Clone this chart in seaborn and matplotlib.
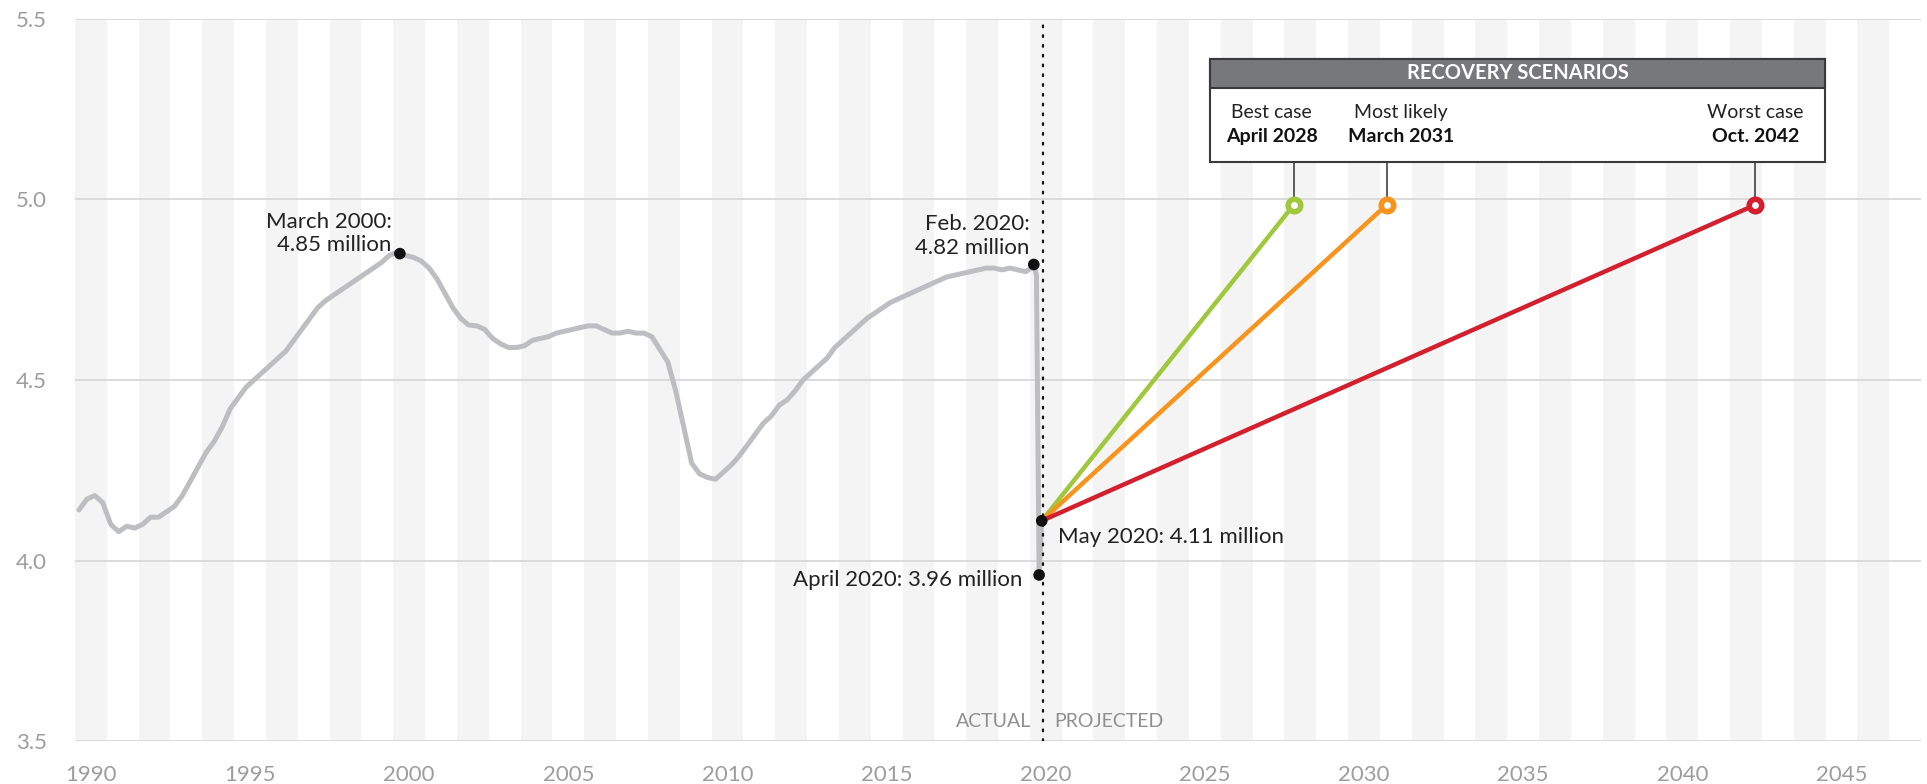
import matplotlib
matplotlib.use('Agg')
import matplotlib.pyplot as plt
from matplotlib.patches import Rectangle
import seaborn as sns
import pandas as pd

# quarterly readings (mid-quarter), millions of jobs
years = list(range(1990, 2020))
quarterly = [
    [4.14, 4.17, 4.18, 4.16],
    [4.10, 4.08, 4.095, 4.09],
    [4.10, 4.12, 4.12, 4.135],
    [4.15, 4.18, 4.22, 4.26],
    [4.30, 4.33, 4.37, 4.42],
    [4.45, 4.48, 4.50, 4.52],
    [4.54, 4.56, 4.58, 4.61],
    [4.64, 4.67, 4.70, 4.72],
    [4.735, 4.75, 4.765, 4.78],
    [4.795, 4.81, 4.825, 4.845],
    [4.854, 4.845, 4.84, 4.83],
    [4.81, 4.78, 4.74, 4.70],
    [4.67, 4.652, 4.65, 4.64],
    [4.615, 4.60, 4.59, 4.59],
    [4.595, 4.61, 4.615, 4.62],
    [4.63, 4.635, 4.64, 4.645],
    [4.65, 4.65, 4.64, 4.63],
    [4.63, 4.635, 4.63, 4.63],
    [4.62, 4.585, 4.55, 4.47],
    [4.37, 4.27, 4.24, 4.23],
    [4.225, 4.245, 4.265, 4.29],
    [4.32, 4.35, 4.38, 4.40],
    [4.43, 4.445, 4.47, 4.50],
    [4.52, 4.54, 4.56, 4.59],
    [4.61, 4.63, 4.65, 4.67],
    [4.685, 4.70, 4.715, 4.725],
    [4.735, 4.745, 4.755, 4.765],
    [4.775, 4.785, 4.79, 4.795],
    [4.80, 4.805, 4.81, 4.81],
    [4.805, 4.81, 4.805, 4.80],
]
# 2020 monthly: Jan..May
months_2020 = [1, 2, 3, 4, 5]
values_2020 = [4.81, 4.82, 4.79, 3.96, 4.11]

# recovery scenarios (year, month) and level reached
scen_names = ['Best case', 'Most likely', 'Worst case']
scen_dates = ['April 2028', 'March 2031', 'Oct. 2042']
scen_year = [2028, 2031, 2042]
scen_month = [4, 3, 10]
recovery_level = 4.985
scen_colors = ['#a0c83c', '#f7941d', '#d2202f']

# labelled points
peak_2000 = (2000, 3, 4.85)
feb_2020 = (2020, 2, 4.82)
apr_2020 = (2020, 4, 3.96)
may_2020 = (2020, 5, 4.11)

xticks = list(range(1990, 2050, 5))
yticks = [3.5, 4.0, 4.5, 5.0, 5.5]


def dec(y, m):
    return y + (m - 0.5) / 12


rows = []
for y, qs in zip(years, quarterly):
    for i, v in enumerate(qs):
        rows.append((dec(y, 3 * i + 2), v))
for m, v in zip(months_2020, values_2020):
    rows.append((dec(2020, m), v))
hist = pd.DataFrame(rows, columns=['t', 'value'])

sns.set_style('white')
plt.rcParams['font.family'] = ['Lato', 'DejaVu Sans']

fig = plt.figure(figsize=(19.27, 7.84), dpi=100)
ax = fig.add_axes([0.0389, 0.0548, 0.958, 0.921])

# alternate year stripes
for yr in range(1990, 2048, 2):
    ax.axvspan(yr, yr + 1, color='#f4f4f4', lw=0, zorder=0)
for v in yticks:
    ax.axhline(v, color='#d8d8d8', lw=1.3, zorder=1)

sns.lineplot(data=hist, x='t', y='value', color='#bdbec1', lw=3.6,
             ax=ax, zorder=3)

t_may = dec(*may_2020[:2])
for yy, mm, c in zip(scen_year, scen_month, scen_colors):
    proj = pd.DataFrame({'t': [t_may, dec(yy, mm)],
                         'value': [may_2020[2], recovery_level]})
    sns.lineplot(data=proj, x='t', y='value', color=c, lw=3.2, ax=ax,
                 zorder=4)

# actual / projected divider
t_div = 2020 + 5 / 12
ax.axvline(t_div, color='#111111', lw=1.6, ls=(0, (0.8, 3.6)),
           dash_capstyle='round', zorder=5)

pts = pd.DataFrame({
    't': [dec(*p[:2]) for p in (peak_2000, feb_2020, apr_2020, may_2020)],
    'value': [p[2] for p in (peak_2000, feb_2020, apr_2020, may_2020)],
})
sns.scatterplot(data=pts, x='t', y='value', color='#111111', s=70,
                edgecolor='none', ax=ax, zorder=7)

txt = dict(fontsize=16, color='#222222', textcoords='offset points')
ax.annotate('March 2000:\n4.85 million', (pts.t[0], pts.value[0]),
            xytext=(-6, -1), ha='right', va='bottom', **txt)
ax.annotate('Feb. 2020:\n4.82 million', (pts.t[1], pts.value[1]),
            xytext=(-3, 5), ha='right', va='bottom', **txt)
ax.annotate('April 2020: 3.96 million', (pts.t[2], pts.value[2]),
            xytext=(-12, -3.5), ha='right', va='center', **txt)
ax.annotate('May 2020: 4.11 million', (pts.t[3], pts.value[3]),
            xytext=(12, -12), ha='left', va='center', **txt)

ax.annotate('ACTUAL', (t_div, 3.554), xytext=(-8.5, 0),
            textcoords='offset points', ha='right', va='center',
            fontsize=14, color='#8f8f8f')
ax.annotate('PROJECTED', (t_div, 3.554), xytext=(8, 0),
            textcoords='offset points', ha='left', va='center',
            fontsize=14, color='#8f8f8f')

# recovery scenarios box
box_x0, box_x1 = 2025.66, 2044.98
box_y0, box_y1, head_y = 5.105, 5.39, 5.31
ax.add_patch(Rectangle((box_x0, box_y0), box_x1 - box_x0, box_y1 - box_y0,
                       facecolor='white', edgecolor='#3a3a3a', lw=1.5,
                       zorder=8))
ax.add_patch(Rectangle((box_x0, head_y), box_x1 - box_x0, box_y1 - head_y,
                       facecolor='#77787b', edgecolor='#3a3a3a', lw=1.5,
                       zorder=8))
ax.text((box_x0 + box_x1) / 2, (head_y + box_y1) / 2, 'RECOVERY SCENARIOS',
        ha='center', va='center', color='white', fontsize=14.5,
        fontweight='bold', zorder=9)

label_x = [2027.6, 2031.66, 2042.8]
for name, date, lx, yy, mm, c in zip(scen_names, scen_dates, label_x,
                                      scen_year, scen_month, scen_colors):
    t_end = dec(yy, mm)
    ax.text(lx, 5.241, name, ha='center', va='center', fontsize=14,
            color='#222222', zorder=9)
    ax.text(lx, 5.175, date, ha='center', va='center', fontsize=14,
            color='#111111', fontweight='bold', zorder=9)
    ax.plot([t_end, t_end], [box_y0, recovery_level], color='#333333',
            lw=1.1, zorder=6)
    ax.plot([t_end], [recovery_level], marker='o', ms=9, mew=4,
            mfc='white', mec=c, zorder=8)

ax.set_xlim(1990, 2048)
ax.set_ylim(3.5, 5.5)
ax.set_xticks([x + 0.5 for x in xticks])
ax.set_xticklabels([str(x) for x in xticks])
ax.set_yticks(yticks)
ax.set_yticklabels([f'{v:.1f}' for v in yticks])
ax.tick_params(axis='both', length=0, labelsize=16, labelcolor='#9d9d9d')
ax.tick_params(axis='y', pad=20)
ax.tick_params(axis='x', pad=17)
ax.set_xlabel('')
ax.set_ylabel('')
sns.despine(ax=ax, left=True, bottom=True)

fig.savefig('out.png', dpi=100)
